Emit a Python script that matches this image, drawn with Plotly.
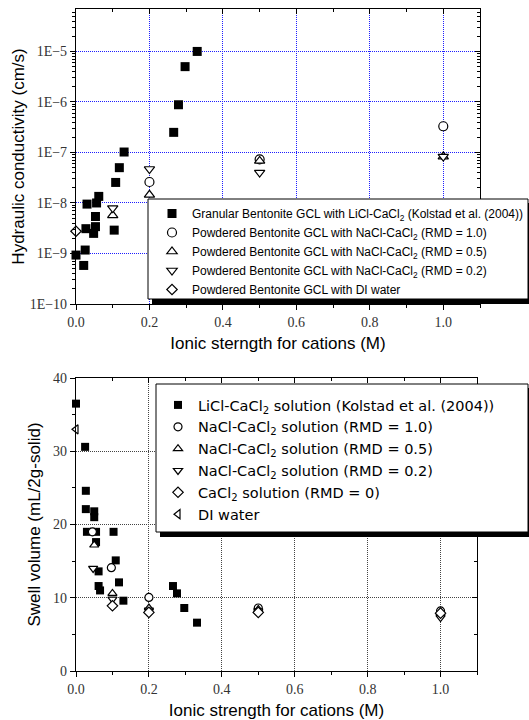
import plotly.graph_objects as go

# ---------------- Top chart data: hydraulic conductivity ----------------
gran_x = [0.0, 0.021, 0.025, 0.027, 0.030, 0.048, 0.053, 0.053, 0.056, 0.062, 0.104, 0.108, 0.118, 0.131, 0.266, 0.279, 0.297, 0.330]
gran_k = [9.3e-10, 5.8e-10, 1.17e-9, 3.1e-9, 9.5e-9, 2.5e-9, 3.4e-9, 5.4e-9, 1.0e-8, 1.35e-8, 2.9e-9, 2.55e-8, 5.0e-8, 1.02e-7, 2.5e-7, 8.8e-7, 5.0e-6, 1.0e-5]
rmd10_x = [0.2, 0.5, 1.0]
rmd10_k = [2.6e-8, 7.3e-8, 3.3e-7]
rmd05_x = [0.1, 0.2, 0.5, 1.0]
rmd05_k = [5.7e-9, 1.45e-8, 6.8e-8, 8.3e-8]
rmd02_x = [0.1, 0.2, 0.5, 1.0]
rmd02_k = [7.9e-9, 4.7e-8, 4.0e-8, 8.3e-8]
di_x = [0.0]
di_k = [2.75e-9]

# ---------------- Bottom chart data: swell volume ----------------
licl_x = [0.0, 0.025, 0.027, 0.027, 0.05, 0.05, 0.03, 0.055, 0.103, 0.055, 0.109, 0.062, 0.118, 0.062, 0.066, 0.13, 0.266, 0.277, 0.297, 0.332]
licl_sv = [36.5, 30.6, 24.6, 22.1, 21.8, 21.0, 19.0, 19.0, 19.0, 17.6, 15.1, 13.6, 12.1, 11.6, 11.0, 9.6, 11.6, 10.6, 8.6, 6.6]
s10_x = [0.045, 0.097, 0.2, 0.5, 1.0]
s10_sv = [19.0, 14.1, 10.05, 8.6, 8.2]
s05_x = [0.05, 0.1, 0.2, 0.5, 1.0]
s05_sv = [17.2, 10.6, 8.6, 8.4, 8.0]
s02_x = [0.047, 0.1, 0.2, 0.5, 1.0]
s02_sv = [14.0, 9.8, 8.3, 8.2, 7.3]
cacl_x = [0.1, 0.2, 0.5, 1.0]
cacl_sv = [8.9, 8.0, 8.0, 7.9]
diw_x = [0.0]
diw_sv = [33.0]

top_names = [
    "Granular Bentonite GCL with LiCl-CaCl<sub>2</sub> (Kolstad et al. (2004))",
    "Powdered Bentonite GCL with NaCl-CaCl<sub>2</sub> (RMD = 1.0)",
    "Powdered Bentonite GCL with NaCl-CaCl<sub>2</sub> (RMD = 0.5)",
    "Powdered Bentonite GCL with NaCl-CaCl<sub>2</sub> (RMD = 0.2)",
    "Powdered Bentonite GCL with DI water",
]
bot_names = [
    "LiCl-CaCl<sub>2</sub> solution (Kolstad et al. (2004))",
    "NaCl-CaCl<sub>2</sub> solution (RMD = 1.0)",
    "NaCl-CaCl<sub>2</sub> solution (RMD = 0.5)",
    "NaCl-CaCl<sub>2</sub> solution (RMD = 0.2)",
    "CaCl<sub>2</sub> solution (RMD = 0)",
    "DI water",
]

# page geometry (px) used to convert to paper coordinates
W, H = 529, 720
ML, MR, MT, MB = 76, 49, 9, 49
PW, PH = W - ML - MR, H - MT - MB


def px(xp):
    return (xp - ML) / PW


def py(yp):
    return (H - MB - yp) / PH


fig = go.Figure()


def open_marker(sym, size):
    return dict(symbol=sym, size=size, color="white", line=dict(color="black", width=1.2))


top_series = [
    (gran_x, gran_k, dict(symbol="square", size=9, color="black", line=dict(width=0))),
    (rmd10_x, rmd10_k, open_marker("circle", 9)),
    (rmd05_x, rmd05_k, open_marker("triangle-up", 9)),
    (rmd02_x, rmd02_k, open_marker("triangle-down", 9)),
    (di_x, di_k, open_marker("diamond", 8)),
]
for (xs, ys, mk), nm in zip(top_series, top_names):
    fig.add_trace(go.Scatter(x=xs, y=ys, mode="markers", marker=mk, name=nm,
                             xaxis="x", yaxis="y", legend="legend", cliponaxis=False))

bot_series = [
    (licl_x, licl_sv, dict(symbol="square", size=8, color="black", line=dict(width=0))),
    (s10_x, s10_sv, open_marker("circle", 8)),
    (s05_x, s05_sv, open_marker("triangle-up", 8)),
    (s02_x, s02_sv, open_marker("triangle-down", 8)),
    (cacl_x, cacl_sv, open_marker("diamond", 8)),
    (diw_x, diw_sv, open_marker("triangle-left", 8)),
]
for (xs, ys, mk), nm in zip(bot_series, bot_names):
    fig.add_trace(go.Scatter(x=xs, y=ys, mode="markers", marker=mk, name=nm,
                             xaxis="x2", yaxis="y2", legend="legend2", cliponaxis=False))

# empty traces hosting the mirrored (inward-tick) top/right axes
fig.add_trace(go.Scatter(x=[], y=[], xaxis="x3", yaxis="y3", showlegend=False, hoverinfo="skip"))
fig.add_trace(go.Scatter(x=[], y=[], xaxis="x4", yaxis="y4", showlegend=False, hoverinfo="skip"))

tickfont = dict(family="Liberation Serif", size=14, color="#333")
titlefont = dict(family="Liberation Sans", size=17, color="black")

top_dom = [py(304), py(9)]
bot_dom = [py(671), py(378)]
xr = [0, 1.1]
ylog = [-10, -4.16]

blue_grid = dict(showgrid=True, gridcolor="rgb(30,30,255)", griddash="1px,1px", gridwidth=1)
gray_grid = dict(showgrid=True, gridcolor="#444", griddash="1px,1px", gridwidth=1)

common_x = dict(range=xr, tick0=0, dtick=0.2, tickformat=".1f", ticks="outside", ticklen=5,
                tickcolor="black", showline=True, linecolor="black", linewidth=1.2, mirror=True,
                zeroline=False, tickfont=tickfont, automargin=False,
                minor=dict(ticks="outside", ticklen=3, dtick=0.1, tick0=0, tickcolor="black", showgrid=False))

mirror_x = dict(range=xr, tick0=0, dtick=0.2, side="top",
                ticks="inside", ticklen=5, tickcolor="black", showticklabels=False,
                showgrid=False, zeroline=False, showline=False, automargin=False,
                minor=dict(ticks="inside", ticklen=3, dtick=0.1, tick0=0, tickcolor="black", showgrid=False))

fig.update_layout(
    width=W, height=H,
    margin=dict(l=ML, r=MR, t=MT, b=MB, autoexpand=False),
    paper_bgcolor="white", plot_bgcolor="white",
    xaxis=dict(domain=[0, 1], anchor="y",
               title=dict(text="Ionic sterngth for cations (M)", font=titlefont, standoff=8),
               **blue_grid, **common_x),
    yaxis=dict(domain=top_dom, anchor="x", type="log", range=ylog, dtick=1,
               exponentformat="E", showexponent="all",
               ticks="outside", ticklen=5, tickcolor="black",
               showline=True, linecolor="black", linewidth=1.2, mirror=True,
               tickfont=tickfont, automargin=False, **blue_grid,
               minor=dict(ticks="outside", ticklen=3, dtick="D1", tickcolor="black", showgrid=False),
               title=dict(text="Hydraulic conductivity (cm/s)", font=titlefont, standoff=0)),
    xaxis2=dict(domain=[0, px(477)], anchor="y2",
                title=dict(text="Ionic strength for cations (M)", font=titlefont, standoff=8),
                **gray_grid, **common_x),
    yaxis2=dict(domain=bot_dom, anchor="x2", range=[0, 40], dtick=10, tick0=0,
                ticks="outside", ticklen=5, tickcolor="black",
                showline=True, linecolor="black", linewidth=1.2, mirror=True,
                zeroline=False, tickfont=tickfont, automargin=False, **gray_grid,
                minor=dict(ticks="outside", ticklen=3, dtick=5, tick0=0, tickcolor="black", showgrid=False),
                title=dict(text="Swell volume (mL/2g-solid)", font=titlefont, standoff=8)),
    xaxis3=dict(overlaying="x", anchor="y", **mirror_x),
    yaxis3=dict(overlaying="y", anchor="x", side="right", type="log", range=ylog, dtick=1,
                ticks="inside", ticklen=5, tickcolor="black", showticklabels=False,
                showgrid=False, zeroline=False, showline=False, automargin=False,
                minor=dict(ticks="inside", ticklen=3, dtick="D1", tickcolor="black", showgrid=False)),
    xaxis4=dict(overlaying="x2", anchor="y2", **mirror_x),
    yaxis4=dict(overlaying="y2", anchor="x2", side="right", range=[0, 40], dtick=10, tick0=0,
                ticks="inside", ticklen=5, tickcolor="black", showticklabels=False,
                showgrid=False, zeroline=False, showline=False, automargin=False,
                minor=dict(ticks="inside", ticklen=3, dtick=5, tick0=0, tickcolor="black", showgrid=False)),
    legend=dict(x=px(152), y=py(199), xanchor="left", yanchor="top",
                bgcolor="rgba(0,0,0,0)", borderwidth=0,
                font=dict(family="Liberation Sans", size=12, color="black"),
                itemsizing="trace", tracegroupgap=0),
    legend2=dict(x=px(158), y=py(389), xanchor="left", yanchor="top",
                 bgcolor="rgba(0,0,0,0)", borderwidth=0,
                 font=dict(family="DejaVu Sans", size=14.5, color="black"),
                 itemsizing="trace", tracegroupgap=0),
    showlegend=True,
)

# legend boxes with drop shadows (drawn as shapes; legends sit on top)
for (x0, y0, x1, y1) in [(148, 199, 528, 299), (156, 384, 528, 532)]:
    fig.add_shape(type="rect", xref="paper", yref="paper",
                  x0=px(x0 + 4), x1=px(x1 + 5), y0=py(y1 + 5), y1=py(y0 + 4),
                  fillcolor="black", line=dict(width=0), layer="above")
    fig.add_shape(type="rect", xref="paper", yref="paper",
                  x0=px(x0), x1=px(x1), y0=py(y1), y1=py(y0),
                  fillcolor="white", line=dict(color="black", width=1), layer="above")

fig.write_html(
    "out.html",
    config={"displayModeBar": False},
    post_script="document.body.style.margin='0';document.body.style.padding='0';"
                "document.documentElement.style.overflow='hidden';",
)
